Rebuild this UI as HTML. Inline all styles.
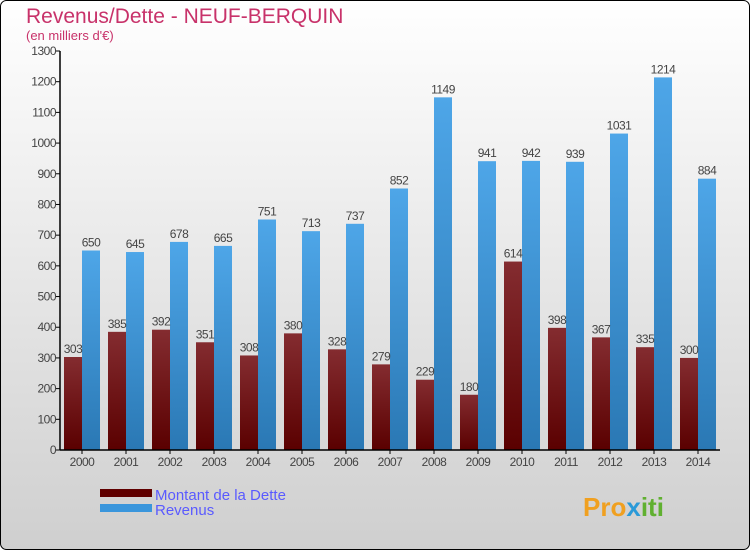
<!DOCTYPE html>
<html><head><meta charset="utf-8"><style>
body{margin:0;width:750px;height:550px;overflow:hidden;font-family:"Liberation Sans","DejaVu Sans",sans-serif}
</style></head><body>
<svg width="750" height="550" xmlns="http://www.w3.org/2000/svg" id="chart" font-family="Liberation Sans, DejaVu Sans, sans-serif">
<defs>
<linearGradient id="bg" x1="0" y1="0" x2="0" y2="1"><stop offset="0" stop-color="#ffffff"/><stop offset="1" stop-color="#cfcfcf"/></linearGradient>
<linearGradient id="gd" x1="0" y1="0" x2="0" y2="1"><stop offset="0" stop-color="#842c30"/><stop offset="1" stop-color="#5a0000"/></linearGradient>
<linearGradient id="gr" x1="0" y1="0" x2="0" y2="1"><stop offset="0" stop-color="#4ea6e8"/><stop offset="1" stop-color="#2a78b4"/></linearGradient>
</defs>
<rect x="0.5" y="0.5" width="749" height="549" rx="6" fill="url(#bg)" stroke="#000"/>
<text x="26" y="23" font-size="21" fill="#c8326a">Revenus/Dette - NEUF-BERQUIN</text>
<text x="26" y="40" font-size="13" fill="#c8326a">(en milliers d'€)</text>
<g id="plot"></g>
<g>
<rect x="100" y="489" width="52" height="8" fill="#600000"/>
<text x="155" y="500" font-size="15" fill="#5a5aff">Montant de la Dette</text>
<rect x="100" y="504" width="52" height="8" fill="#3a96dc"/>
<text x="155" y="515" font-size="15" fill="#5a5aff">Revenus</text>
</g>
<text x="583" y="516" font-size="26" font-weight="bold" fill="#f0a020">Pro<tspan fill="#2a9ad8">x</tspan><tspan fill="#60b030">iti</tspan></text>
</svg>
<script>
const years=["2000","2001","2002","2003","2004","2005","2006","2007","2008","2009","2010","2011","2012","2013","2014"];
const dette=[303,385,392,351,308,380,328,279,229,180,614,398,367,335,300];
const revenus=[650,645,678,665,751,713,737,852,1149,941,942,939,1031,1214,884];
const yTicks=[0,100,200,300,400,500,600,700,800,900,1000,1100,1200,1300];
const NS="http://www.w3.org/2000/svg";
const g=document.getElementById('plot');
const x0=60,gw=44,y0=450,yTop=51,yMax=1300;
const y=v=>y0-(v/yMax)*(y0-yTop);
function mk(t,a){const e=document.createElementNS(NS,t);for(const k in a)e.setAttribute(k,a[k]);g.appendChild(e);return e;}
yTicks.forEach(v=>{
 const l=mk('line',{x1:56,x2:60,y1:y(v),y2:y(v),stroke:'#000'});
 
 
 const t=mk('text',{x:56,y:y(v)+4,'font-size':12,'text-anchor':'end',fill:'#444','letter-spacing':'-0.5'});
 t.textContent=v;
 
 
});
years.forEach((yr,i)=>{
 const gx=x0+i*gw;
 const bd=mk('rect',{x:gx+4,y:y(dette[i]),width:18,height:y0-y(dette[i]),fill:'url(#gd)'});
 
 
 const br=mk('rect',{x:gx+22,y:y(revenus[i]),width:18,height:y0-y(revenus[i]),fill:'url(#gr)'});
 
 
 const ld=mk('text',{x:gx+13,y:y(dette[i])-4,'font-size':12,'text-anchor':'middle',fill:'#444','letter-spacing':'-0.5'});
 ld.textContent=dette[i];
 
 
 const lr=mk('text',{x:gx+31,y:y(revenus[i])-4,'font-size':12,'text-anchor':'middle',fill:'#444','letter-spacing':'-0.5'});
 lr.textContent=revenus[i];
 
 
 const tk=mk('line',{x1:gx+22,x2:gx+22,y1:450,y2:454,stroke:'#000'});
 
 
 const xl=mk('text',{x:gx+22,y:466,'font-size':12,'text-anchor':'middle',fill:'#444','letter-spacing':'-0.5'});
 xl.textContent=yr;
 
 
});
const ya=mk('line',{x1:60,x2:60,y1:51,y2:450,stroke:'#000','stroke-width':1.5});


const xa=mk('line',{x1:60,x2:720,y1:450,y2:450,stroke:'#000','stroke-width':1.5});


</script>
</body></html>
